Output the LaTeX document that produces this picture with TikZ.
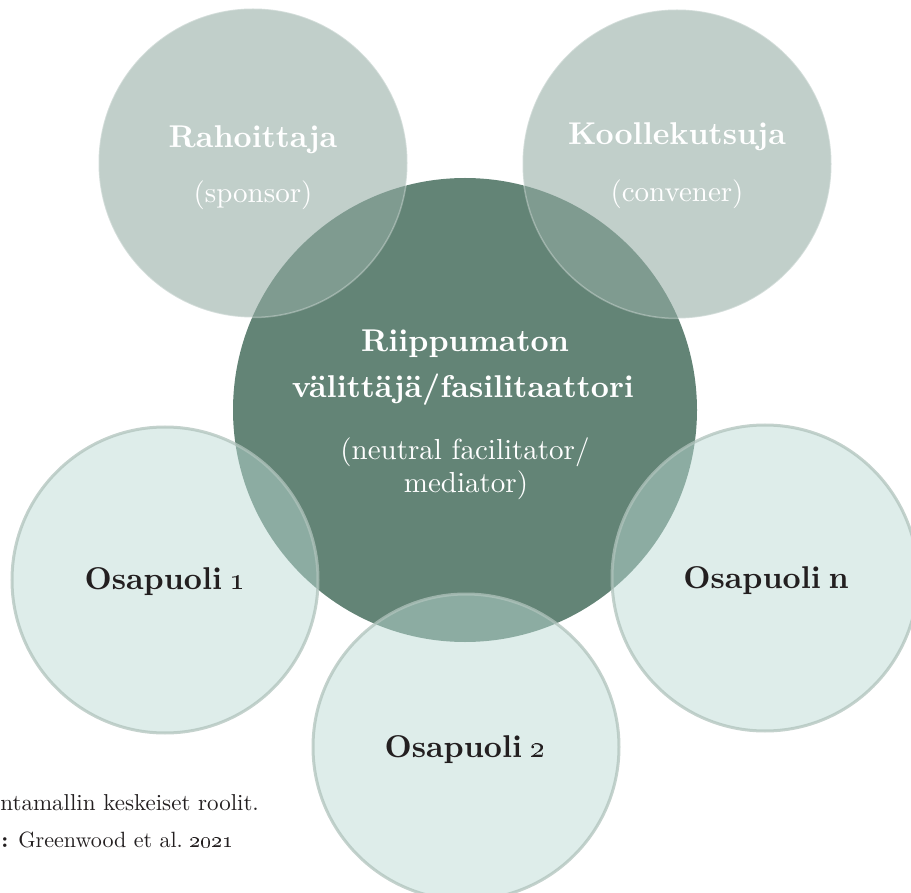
\documentclass[tikz,border=0pt]{standalone}
\definecolor{CenFill}{RGB}{99,132,118}
\definecolor{TopFill}{RGB}{148,172,164}
\definecolor{BotFill}{RGB}{186,217,211}
\definecolor{BotLine}{RGB}{176,195,188}
\definecolor{DarkText}{RGB}{35,31,32}
\newcommand\tenbf{\fontsize{10}{12}\selectfont\bfseries}
\newcommand\tenrm{\fontsize{10}{12}\selectfont}
\begin{document}
\begin{tikzpicture}[x=1pt,y=-1pt,
  circ/.style={circle,inner sep=0pt,outer sep=0pt},
  centrecirc/.style={circ,fill=CenFill,minimum size=464pt},
  topcirc/.style={circ,fill=TopFill,fill opacity=0.58,draw=white,draw opacity=0.3,line width=1.5pt,minimum size=309pt},
  botcirc/.style={circ,fill=BotFill,fill opacity=0.48,draw=BotLine,draw opacity=0.75,line width=3pt,minimum size=306pt},
  wbold/.style={anchor=base,inner sep=0pt,text=white,font=\tenbf,scale=3.15},
  wreg/.style={anchor=base,inner sep=0pt,text=white,font=\tenrm,scale=2.9},
  dbold/.style={anchor=base,inner sep=0pt,text=DarkText,font=\tenbf,scale=3.15},
  caplab/.style={anchor=base west,inner sep=0pt,text=DarkText,font=\tenrm,scale=2.3}]
\clip (0,0) rectangle (911,893);
% circles
\node[centrecirc] (cen) at (465,410) {};
\node[topcirc] (rah) at (253,163) {};
\node[topcirc] (kok) at (677,164) {};
\node[botcirc] (os1) at (165,580) {};
\node[botcirc] (osn) at (765,578) {};
\node[botcirc] (os2) at (466,747) {};
% texts
\node[wbold] (rahT) at (253,148) {Rahoittaja};
\node[wreg] (rahS) at (253,203) {(sponsor)};
\node[wbold] (kokT) at (677,145) {Koollekutsuja};
\node[wreg] (kokS) at (677,202) {(convener)};
\node[wbold] (cenA) at (465,352) {Riippumaton};
\node[wbold] (cenB) at (463,398) {välittäjä/fasilitaattori};
\node[wreg] (cenC) at (465,460) {(neutral facilitator/};
\node[wreg] (cenD) at (466,493) {mediator)};
\node[dbold] (os1T) at (165,589) {Osapuoli\hspace{0.24em}\textoneoldstyle};
\node[dbold] (os2T) at (465,757) {Osapuoli\hspace{0.24em}\texttwooldstyle};
\node[dbold] (osnT) at (766,588) {Osapuoli\hspace{0.24em}n};
\node[caplab] (capA) at (0,810) {ntamallin keskeiset roolit.};
\node[caplab,scale=0.96] (capB) at (1,847) {\textbf{:} Greenwood et al.\hspace{0.3em}\texttwooldstyle\textzerooldstyle\texttwooldstyle\textoneoldstyle};
\end{tikzpicture}
\end{document}
